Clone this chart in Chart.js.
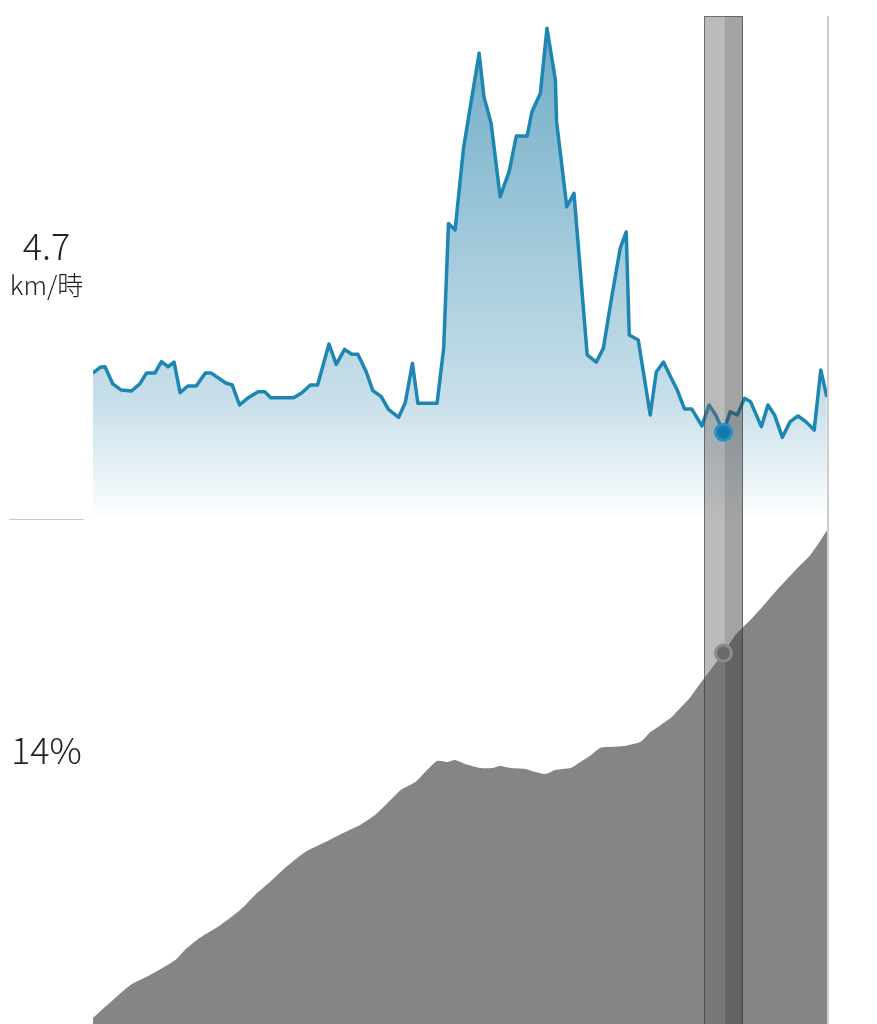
<!DOCTYPE html>
<html>
<head>
<meta charset="utf-8">
<title>Speed / elevation</title>
<script src="https://cdn.jsdelivr.net/npm/chart.js@4.4.1/dist/chart.umd.min.js"></script>
<style>
  html, body { margin: 0; padding: 0; background: #fff; }
  #wrap { position: relative; width: 877px; height: 1024px; overflow: hidden; }
  #chart { position: absolute; left: 0; top: 0; display: block; }
  .side {
    position: absolute; left: 0; width: 93px; text-align: center; white-space: nowrap;
    color: #222; font-family: "Noto Sans CJK JP", "Noto Sans", sans-serif; font-weight: 300;
  }
  #speed-val { top: 226px; font-size: 36px; line-height: 36px; }
  #speed-unit { top: 271px; font-size: 26px; line-height: 26px; }
  #grade-val { top: 730px; font-size: 36px; line-height: 36px; }
  #divider { position: absolute; left: 9px; width: 75px; top: 519px; height: 1px; background: #c8c8c8; }
</style>
</head>
<body>
<div id="wrap">
  <canvas id="chart" width="877" height="1024"></canvas>
  <div class="side" id="speed-val"></div>
  <div class="side" id="speed-unit"></div>
  <div id="divider"></div>
  <div class="side" id="grade-val"></div>
</div>
<script>
// speed (km/h) against elapsed time (min)
const speedTimes = [
  0, 1.3, 2.0, 3.3, 4.7, 6.4, 7.8, 8.9, 10.3, 11.4, 12.5, 13.5, 14.5, 15.8, 17.2, 18.7, 19.7,
  22.1, 23.2, 24.4, 25.8, 27.5, 28.6, 29.6, 33.4, 34.8, 36.2, 37.4, 39.3, 40.5, 41.9, 43.1, 44.1,
  45.5, 46.6, 48.0, 49.2, 50.9, 52.0, 53.2, 54.1, 57.3, 58.4, 59.2, 60.3, 61.7, 64.3, 65.1, 66.3,
  67.8, 69.3, 70.5, 72.3, 73.1, 74.5, 75.6, 77.0, 77.2, 78.9, 80.1, 82.3, 83.8, 85.0, 86.3, 87.8,
  88.8, 89.3, 90.8, 92.8, 93.8, 95.0, 96.2, 97.3, 98.5, 99.7, 101.4, 102.6, 103.7, 105.0, 106.1,
  107.3, 108.5, 109.5, 111.3, 112.4, 113.5, 114.8, 116.1, 117.4, 118.7, 120.1, 121.2, 122.2
];
const speedValues = [
  7.87, 8.20, 8.21, 7.29, 6.96, 6.91, 7.29, 7.87, 7.87, 8.48, 8.21, 8.46, 6.82, 7.18, 7.18, 7.87, 7.87,
  7.34, 7.23, 6.16, 6.54, 6.87, 6.87, 6.55, 6.55, 6.82, 7.23, 7.23, 9.43, 8.34, 9.14, 8.88, 8.88,
  7.94, 6.93, 6.61, 5.93, 5.50, 6.28, 8.39, 6.25, 6.25, 9.20, 15.89, 15.54, 19.91, 25.00, 22.68, 21.25,
  17.32, 18.66, 20.57, 20.57, 21.87, 22.86, 26.34, 23.57, 21.34, 16.78, 17.50, 8.84, 8.46, 9.21, 11.79, 14.57,
  15.43, 9.91, 9.64, 5.63, 7.93, 8.46, 7.66, 6.96, 5.95, 5.95, 5.04, 6.16, 5.63, 4.7, 5.80,
  5.63, 6.52, 6.34, 5.00, 6.16, 5.63, 4.43, 5.27, 5.57, 5.27, 4.82, 8.04, 6.59
];

// elevation (m) against elapsed time (min)
const elevTimes = [
  0, 2.8, 6.2, 9.5, 13.7, 15.3, 17.8, 21.2, 24.5, 27.0, 29.5, 32.0, 35.3, 38.7, 42.0, 44.5, 47.0,
  49.5, 51.2, 53.7, 55.3, 57.3, 59.0, 60.3, 62.0, 64.5, 66.5, 67.8, 69.5, 72.0, 73.7, 75.3, 77.0,
  79.5, 81.2, 82.8, 84.5, 87.0, 88.7, 91.2, 92.8, 94.5, 96.2, 97.8, 99.5, 101.2, 102.8, 105.0,
  107.0, 109.5, 112.0, 114.5, 117.0, 119.5, 122.3
];
const elevValues = [
  1.2, 4.2, 7.7, 9.7, 12.7, 14.7, 17.1, 19.6, 22.6, 25.6, 28.2, 31.0, 34.1, 36.1, 38.1, 39.5, 41.5,
  44.4, 46.4, 48.0, 50.0, 52.2, 52.0, 52.4, 51.6, 50.8, 50.8, 51.2, 50.8, 50.6, 50.0, 49.6, 50.4,
  50.8, 52.0, 53.2, 54.8, 55.0, 55.2, 56.0, 57.9, 59.3, 60.7, 62.7, 64.9, 67.7, 70.2, 73.6,
  77.2, 80.2, 83.5, 86.9, 90.1, 93.1, 98.0
];

const highlightTime = 105.0;
const bandHalf = 3.25;
const speedUnit = 'km/時';
const gradeText = '14%';

const hiSpeed = speedTimes.indexOf(highlightTime);
const hiElev = elevTimes.indexOf(highlightTime);

const toPoints = (xs, ys) => xs.map((x, i) => ({ x, y: ys[i] }));

document.getElementById('speed-val').textContent = speedValues[hiSpeed].toFixed(1);
document.getElementById('speed-unit').textContent = speedUnit;
document.getElementById('grade-val').textContent = gradeText;

function speedFill(ctx) {
  const { chart } = ctx;
  const { chartArea, scales } = chart;
  if (!chartArea) return 'rgba(31,126,168,0.3)';
  const base = scales.ySpeed.getPixelForValue(0);
  const g = chart.ctx.createLinearGradient(0, chartArea.top, 0, base);
  g.addColorStop(0, 'rgba(31,126,168,0.66)');
  g.addColorStop(0.76, 'rgba(31,126,168,0.25)');
  g.addColorStop(0.93, 'rgba(31,126,168,0.08)');
  g.addColorStop(1, 'rgba(31,126,168,0)');
  return g;
}

// grey cursor band behind the markers, plus the right edge rule
const overlay = {
  id: 'overlay',
  afterDatasetDraw(chart, args) {
    if (chart.data.datasets[args.index].id !== 'speed') return;
    const { ctx, chartArea, scales } = chart;
    const left = Math.round(scales.x.getPixelForValue(highlightTime - bandHalf));
    const right = Math.round(scales.x.getPixelForValue(highlightTime + bandHalf));
    const mid = Math.round(scales.x.getPixelForValue(highlightTime));
    const top = chartArea.top, h = chartArea.bottom - chartArea.top;
    ctx.save();
    ctx.fillStyle = 'rgba(102,102,102,0.45)';
    ctx.fillRect(left, top, mid - left, h);
    ctx.fillStyle = 'rgba(63,63,63,0.48)';
    ctx.fillRect(mid, top, right - mid, h);
    ctx.strokeStyle = 'rgba(255,255,255,0.18)';
    ctx.lineWidth = 1;
    ctx.beginPath();
    ctx.moveTo(mid + 0.5, top);
    ctx.lineTo(mid + 0.5, chartArea.bottom);
    ctx.stroke();
    ctx.strokeStyle = 'rgba(50,50,50,0.55)';
    ctx.strokeRect(left + 0.5, top + 0.5, right - left - 1, h);
    ctx.restore();
  },
  afterDraw(chart) {
    const { ctx, chartArea } = chart;
    ctx.save();
    ctx.fillStyle = '#cdcdcd';
    ctx.fillRect(chartArea.right - 1, chartArea.top, 2, chartArea.bottom - chartArea.top);
    ctx.restore();
  }
};

new Chart(document.getElementById('chart'), {
  type: 'line',
  data: {
    datasets: [
      {
        id: 'speedDot',
        data: [{ x: highlightTime, y: speedValues[hiSpeed] }],
        yAxisID: 'ySpeed',
        showLine: false,
        pointRadius: 8,
        pointBorderWidth: 3,
        pointBackgroundColor: '#1877a6',
        pointBorderColor: '#2394c8',
        order: 1,
      },
      {
        id: 'elevDot',
        data: [{ x: highlightTime, y: elevValues[hiElev] }],
        yAxisID: 'yElev',
        showLine: false,
        pointRadius: 8,
        pointBorderWidth: 3,
        pointBackgroundColor: '#6a6a6a',
        pointBorderColor: '#8c8c8c',
        order: 1,
      },
      {
        id: 'speed',
        data: toPoints(speedTimes, speedValues),
        yAxisID: 'ySpeed',
        borderColor: '#1d86b2',
        borderWidth: 3.5,
        borderJoinStyle: 'round',
        backgroundColor: speedFill,
        fill: 'origin',
        pointRadius: 0,
        tension: 0,
        order: 3,
      },
      {
        id: 'elev',
        data: toPoints(elevTimes, elevValues),
        yAxisID: 'yElev',
        borderWidth: 0,
        borderColor: 'rgba(0,0,0,0)',
        backgroundColor: '#858585',
        fill: 'origin',
        pointRadius: 0,
        tension: 0.2,
        order: 4,
      },
    ],
  },
  options: {
    responsive: false,
    animation: false,
    events: [],
    layout: { autoPadding: false, padding: { left: 93, right: 49, top: 16, bottom: 0 } },
    scales: {
      x: { type: 'linear', min: 0, max: 122.4, display: false },
      ySpeed: { type: 'linear', min: -27, max: 27, display: false },
      yElev: { type: 'linear', min: 0, max: 200, display: false },
    },
    plugins: {
      legend: { display: false },
      tooltip: { enabled: false },
    },
  },
  plugins: [overlay],
});
</script>
</body>
</html>
